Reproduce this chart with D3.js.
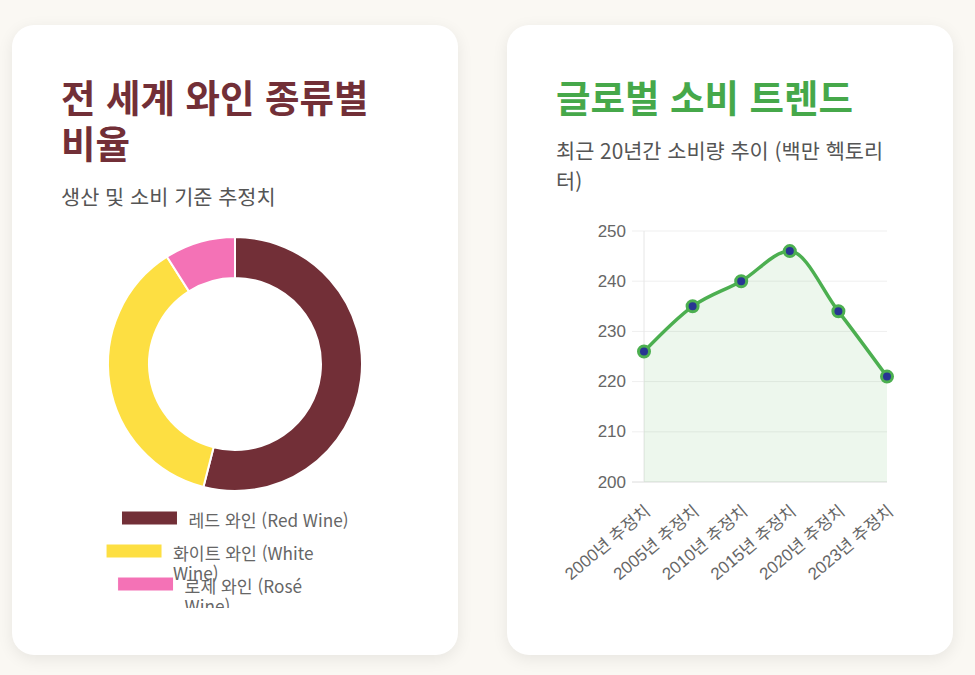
<!DOCTYPE html>
<html lang="ko">
<head>
<meta charset="utf-8">
<script src="https://cdn.jsdelivr.net/npm/d3@7"></script>
<style>
  html, body { margin: 0; padding: 0; }
  body {
    width: 975px; height: 675px; overflow: hidden;
    background: #faf8f3;
    font-family: "Noto Sans CJK KR", "Noto Sans", sans-serif;
    position: relative;
  }
  .card {
    position: absolute; top: 25px;
    width: 446px; height: 630px;
    background: #fff; border-radius: 22px;
    box-shadow: 0 4px 16px rgba(0,0,0,0.08);
    box-sizing: border-box;
    padding: 48px 49px 0 49px;
    overflow: hidden;
  }
  #card1 { left: 12px; }
  #card2 { left: 507px; }
  .card h2 {
    margin: 0; font-size: 37.5px; line-height: 46px; font-weight: 700;
    position: relative; z-index: 2;
  }
  .card p {
    margin: 16px 0 0 0; font-size: 20.8px; line-height: 30px; color: #555;
    max-width: 340px;
    position: relative; z-index: 2;
  }
  .card svg { position: absolute; left: 0; top: 0; z-index: 1; }
</style>
</head>
<body>
<div class="card" id="card1">
  <h2 style="color:#722f37">전 세계 와인 종류별 비율</h2>
  <p>생산 및 소비 기준 추정치</p>
</div>
<div class="card" id="card2">
  <h2 style="color:#46a84a">글로벌 소비 트렌드</h2>
  <p>최근 20년간 소비량 추이 (백만 헥토리터)</p>
</div>
<script>
// wine type shares (%)
const wineTypes = ["레드 와인 (Red Wine)", "화이트 와인 (White Wine)", "로제 와인 (Rosé Wine)"];
const wineShares = [54, 37, 9];
const wineColors = ["#722f37", "#fddf42", "#f472b6"];
// legend text as it wraps in the picture
const legendLines = [
  ["레드 와인 (Red Wine)"],
  ["화이트 와인 (White", "Wine)"],
  ["로제 와인 (Rosé", "Wine)"]
];

// consumption trend (million hl)
const years = ["2000년 추정치", "2005년 추정치", "2010년 추정치", "2015년 추정치", "2020년 추정치", "2023년 추정치"];
const consumption = [226, 235, 240, 246, 234, 221];
const yTicks = [200, 210, 220, 230, 240, 250];

function init() {
  // ---------------- doughnut ----------------
  var svg1 = d3.select("#card1").append("svg").attr("width", 446).attr("height", 630);
  svg1.append("clipPath").attr("id", "legClip")
    .append("rect").attr("x", 0).attr("y", 0).attr("width", 446).attr("height", 583);

  var cx = 223, cy = 339, outerR = 127, innerR = 86;
  var pie = d3.pie().sort(null).value(function (d) { return d; });
  var arc = d3.arc().innerRadius(innerR).outerRadius(outerR);

  svg1.append("g")
    .attr("transform", "translate(" + cx + "," + cy + ")")
    .selectAll("path")
    .data(pie(wineShares))
    .enter()
    .append("path")
    .attr("d", arc)
    .attr("fill", function (d, i) { return wineColors[i]; })
    .attr("stroke", "#fff")
    .attr("stroke-width", 2);

  // legend (one row per type, centred on the unwrapped width)
  var leg = svg1.append("g").attr("clip-path", "url(#legClip)");
  var boxW = 56, boxH = 14, gap = 11, rowStep = 33, firstRow = 493, fs = "17.2px";
  wineTypes.forEach(function (name, i) {
    var rowY = firstRow + i * rowStep;
    var probe = leg.append("text").style("font-size", fs).text(name);
    var fullW = probe.node().getComputedTextLength();
    probe.remove();
    var x0 = cx - (boxW + gap + fullW) / 2;
    leg.append("rect")
      .attr("x", x0).attr("y", rowY - boxH / 2)
      .attr("width", boxW).attr("height", boxH)
      .attr("fill", wineColors[i])
      .attr("stroke", "#fff").attr("stroke-width", 1);
    leg.append("g").selectAll("text")
      .data(legendLines[i])
      .enter()
      .append("text")
      .attr("x", x0 + boxW + gap)
      .attr("y", function (d, j) { return rowY + 1 + j * 20; })
      .attr("dominant-baseline", "central")
      .style("font-size", fs)
      .attr("fill", "#666")
      .text(function (d) { return d; });
  });

  // ---------------- line chart ----------------
  var svg2 = d3.select("#card2").append("svg").attr("width", 446).attr("height", 630);
  var x = d3.scalePoint().domain(years).range([137, 380]);
  var y = d3.scaleLinear().domain([200, 250]).range([457, 206]);

  // grid
  svg2.append("g").selectAll("line")
    .data(yTicks)
    .enter()
    .append("line")
    .attr("x1", 125).attr("x2", 380)
    .attr("y1", function (d) { return y(d); })
    .attr("y2", function (d) { return y(d); })
    .attr("stroke", function (d) { return d === 200 ? "#dcdcdc" : "#efefef"; })
    .attr("stroke-width", 1);
  svg2.append("line")
    .attr("x1", x(years[0])).attr("x2", x(years[0]))
    .attr("y1", y(250)).attr("y2", y(200))
    .attr("stroke", "#e6e6e6");

  // y tick labels
  svg2.append("g").selectAll("text")
    .data(yTicks)
    .enter()
    .append("text")
    .attr("x", 119)
    .attr("y", function (d) { return y(d); })
    .attr("text-anchor", "end")
    .attr("dominant-baseline", "central")
    .style("font-family", "'Liberation Sans', Arial, 'Noto Sans CJK KR', sans-serif")
    .style("font-size", "17px")
    .attr("fill", "#666")
    .text(function (d) { return d; });

  // x tick labels
  svg2.append("g").selectAll("text")
    .data(years)
    .enter()
    .append("text")
    .attr("transform", function (d) { return "translate(" + (x(d) + 4) + ",484) rotate(-40)"; })
    .attr("text-anchor", "end")
    .attr("dominant-baseline", "central")
    .style("font-family", "'Liberation Sans', Arial, 'Noto Sans CJK KR', sans-serif")
    .style("font-size", "17px")
    .attr("fill", "#666")
    .text(function (d) { return d; });

  var curve = d3.curveMonotoneX;
  var area = d3.area()
    .x(function (d, i) { return x(years[i]); })
    .y0(y(200))
    .y1(function (d) { return y(d); })
    .curve(curve);
  var line = d3.line()
    .x(function (d, i) { return x(years[i]); })
    .y(function (d) { return y(d); })
    .curve(curve);

  svg2.append("path").datum(consumption)
    .attr("d", area)
    .attr("fill", "rgba(76,175,80,0.1)");
  svg2.append("path").datum(consumption)
    .attr("d", line)
    .attr("fill", "none")
    .attr("stroke", "#4caf50")
    .attr("stroke-width", 3.5);

  svg2.append("g").selectAll("circle")
    .data(consumption)
    .enter()
    .append("circle")
    .attr("cx", function (d, i) { return x(years[i]); })
    .attr("cy", function (d) { return y(d); })
    .attr("r", 5.5)
    .attr("fill", "#283593")
    .attr("stroke", "#4caf50")
    .attr("stroke-width", 3);
}

window.onload = init;
</script>
</body>
</html>
